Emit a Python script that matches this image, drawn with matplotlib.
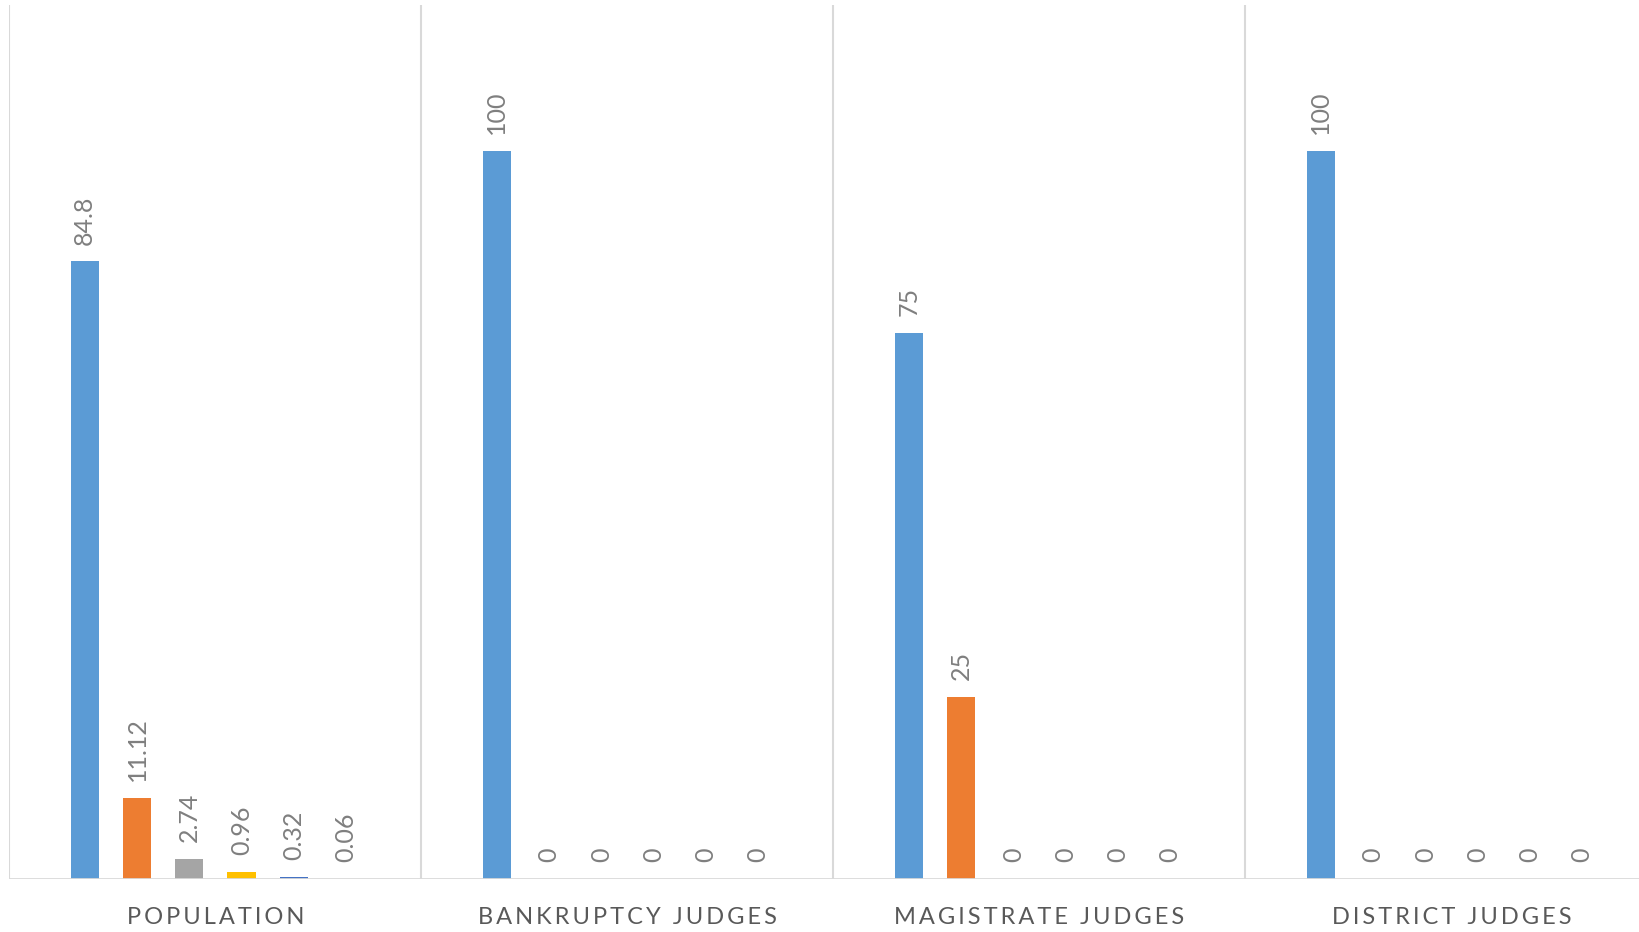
import matplotlib
matplotlib.use("AGG")
import matplotlib.pyplot as plt
import numpy as np

plt.rcParams['font.family'] = ['Lato', 'DejaVu Sans']

# data
categories = ['POPULATION', 'BANKRUPTCY JUDGES', 'MAGISTRATE JUDGES', 'DISTRICT JUDGES']
series_colors = ['#5B9BD5', '#ED7D31', '#A5A5A5', '#FFC000', '#4472C4', '#70AD47']
values = [
    [84.8, 100, 75, 100],   # series 1
    [11.12, 0, 25, 0],      # series 2
    [2.74, 0, 0, 0],        # series 3
    [0.96, 0, 0, 0],        # series 4
    [0.32, 0, 0, 0],        # series 5
    [0.06, 0, 0, 0],        # series 6
]
labels = [
    ['84.8', '100', '75', '100'],
    ['11.12', '0', '25', '0'],
    ['2.74', '0', '0', '0'],
    ['0.96', '0', '0', '0'],
    ['0.32', '0', '0', '0'],
    ['0.06', '0', '0', '0'],
]

fig = plt.figure(figsize=(16.39, 9.32), dpi=100)
ax = fig.add_axes([9.4 / 1639, 53 / 932, 1648 / 1639, 874 / 932])

txt = '#595959'
grid = '#D9D9D9'
step = 50 / 394
width = 27 / 394
x = np.arange(len(categories))

for i, (vals, col) in enumerate(zip(values, series_colors)):
    pos = x + (i - 2.5) * step
    ax.bar(pos, vals, width=width, color=col, zorder=2)
    for px, v, lab in zip(pos, vals, labels[i]):
        ax.annotate(lab, (px, v), xytext=(0, 12), textcoords='offset points',
                    rotation=90, ha='center', va='bottom', fontsize=18, color='#7F7F7F')

ax.set_xlim(-0.5, 3.5)
ax.set_ylim(0, 120)

# category separators
for b in np.arange(-0.5, 4, 1):
    ax.axvline(b, color=grid, lw=1.5, zorder=1)
ax.axhline(0, color=grid, lw=2, zorder=3)

for s in ax.spines.values():
    s.set_visible(False)
ax.set_yticks([])
ax.set_xticks([])

for xi, c in zip(x, categories):
    ax.text(xi, -5.3, '\u2009'.join(c), ha='center', va='center',
            fontsize=17, color=txt, transform=ax.transData, clip_on=False)

plt.savefig("out.png", dpi=100)
